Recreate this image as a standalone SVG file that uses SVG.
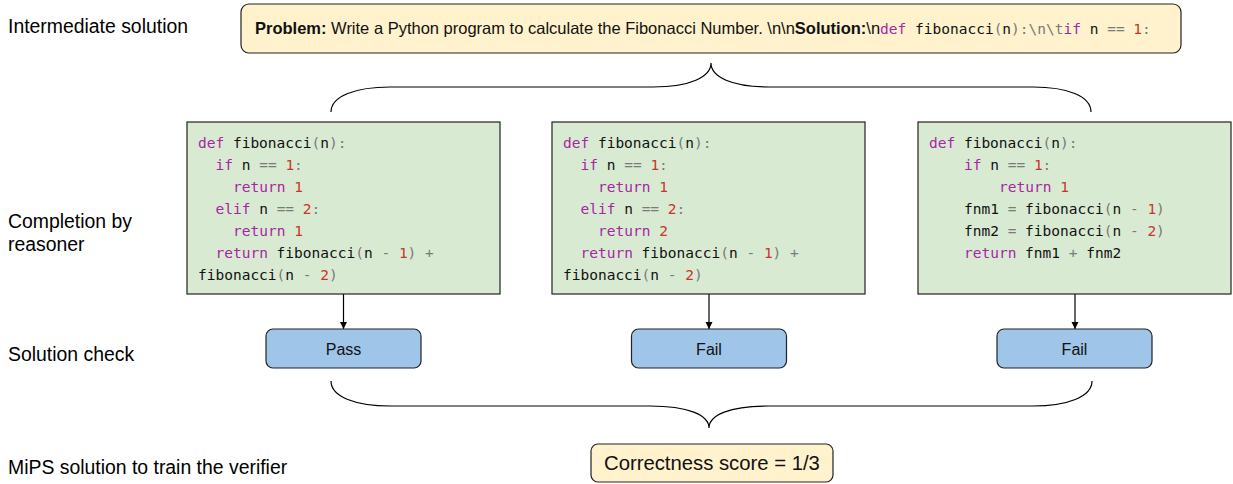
<svg xmlns="http://www.w3.org/2000/svg" width="1233" height="484" viewBox="0 0 1233 484">
<defs>
<marker id="arr" viewBox="0 0 10 10" refX="10" refY="5" markerWidth="7" markerHeight="9" markerUnits="userSpaceOnUse" orient="auto">
<path d="M0,0 L10,5 L0,10 z" fill="#000"/>
</marker>
<style>
.lbl{font-family:"Liberation Sans",Arial,sans-serif;font-size:19.4px;fill:#000}
.sans{font-family:"Liberation Sans",Arial,sans-serif}
.mono{font-family:"DejaVu Sans Mono","Liberation Mono",monospace;font-size:14.5px;fill:#111}
.kw{fill:#a626a4}
.num{fill:#c8342b}
.pn{fill:#7a7a7a}
.yellow{fill:#fff2cc;stroke:#222;stroke-width:1.2}
.green{fill:#d9ead3;stroke:#222;stroke-width:1.2}
.blue{fill:#9fc5e8;stroke:#222;stroke-width:1.2}
.btxt{font-family:"Liberation Sans",Arial,sans-serif;font-size:16px;fill:#111;text-anchor:middle}
.conn{fill:none;stroke:#000;stroke-width:1.2}
</style>
</defs>
<rect width="1233" height="484" fill="#fff"/>

<g id="labels">
<text class="lbl" x="8" y="33">Intermediate solution</text>
<text class="lbl" x="8" y="228">Completion by</text>
<text class="lbl" x="8" y="251">reasoner</text>
<text class="lbl" x="8" y="361">Solution check</text>
<text class="lbl" x="8" y="474">MiPS solution to train the verifier</text>
</g>

<g id="intermediate">
<rect class="yellow" x="241" y="4" width="940" height="49" rx="8"/>
<text x="255" y="34" class="sans" font-size="16.5" fill="#111"><tspan font-weight="bold">Problem:</tspan> Write a Python program to calculate the Fibonacci Number. \n\n<tspan font-weight="bold">Solution:</tspan>\n<tspan class="mono" font-size="13.6px"><tspan class="kw">def</tspan> fibonacci<tspan class="pn">(</tspan>n<tspan class="pn">):\n\t</tspan><tspan class="kw">if</tspan> n <tspan class="pn">==</tspan> <tspan class="num">1</tspan><tspan class="pn">:</tspan></tspan></text>
</g>

<g id="connectors">
<path class="conn" d="M331,112 C331,96 356,87 390,87 L653,87 C690,87 711,77 711,63 C711,77 732,87 769,87 L1033,87 C1067,87 1091,96 1091,112"/>
<line class="conn" x1="343.5" y1="294" x2="343.5" y2="329" marker-end="url(#arr)"/>
<line class="conn" x1="709" y1="294" x2="709" y2="329" marker-end="url(#arr)"/>
<line class="conn" x1="1075" y1="294" x2="1075" y2="329" marker-end="url(#arr)"/>
<path class="conn" d="M331,381 C331,397 356,406 390,406 L650,406 C688,406 709,415 709,428 C709,415 730,406 768,406 L1033,406 C1067,406 1092,397 1092,381"/>
</g>

<g id="completion1">
<rect class="green" x="187" y="122" width="313" height="172"/>
<text class="mono" x="198" y="148"><tspan class="kw">def</tspan> fibonacci<tspan class="pn">(</tspan>n<tspan class="pn">):</tspan></text>
<text class="mono" x="215.5" y="170"><tspan class="kw">if</tspan> n <tspan class="pn">==</tspan> <tspan class="num">1</tspan><tspan class="pn">:</tspan></text>
<text class="mono" x="233" y="192"><tspan class="kw">return</tspan> <tspan class="num">1</tspan></text>
<text class="mono" x="215.5" y="214"><tspan class="kw">elif</tspan> n <tspan class="pn">==</tspan> <tspan class="num">2</tspan><tspan class="pn">:</tspan></text>
<text class="mono" x="233" y="236"><tspan class="kw">return</tspan> <tspan class="num">1</tspan></text>
<text class="mono" x="215.5" y="258"><tspan class="kw">return</tspan> fibonacci<tspan class="pn">(</tspan>n <tspan class="pn">-</tspan> <tspan class="num">1</tspan><tspan class="pn">)</tspan> <tspan class="pn">+</tspan></text>
<text class="mono" x="198" y="280">fibonacci<tspan class="pn">(</tspan>n <tspan class="pn">-</tspan> <tspan class="num">2</tspan><tspan class="pn">)</tspan></text>
</g>

<g id="completion2">
<rect class="green" x="552" y="122" width="313" height="172"/>
<text class="mono" x="563" y="148"><tspan class="kw">def</tspan> fibonacci<tspan class="pn">(</tspan>n<tspan class="pn">):</tspan></text>
<text class="mono" x="580.5" y="170"><tspan class="kw">if</tspan> n <tspan class="pn">==</tspan> <tspan class="num">1</tspan><tspan class="pn">:</tspan></text>
<text class="mono" x="598" y="192"><tspan class="kw">return</tspan> <tspan class="num">1</tspan></text>
<text class="mono" x="580.5" y="214"><tspan class="kw">elif</tspan> n <tspan class="pn">==</tspan> <tspan class="num">2</tspan><tspan class="pn">:</tspan></text>
<text class="mono" x="598" y="236"><tspan class="kw">return</tspan> <tspan class="num">2</tspan></text>
<text class="mono" x="580.5" y="258"><tspan class="kw">return</tspan> fibonacci<tspan class="pn">(</tspan>n <tspan class="pn">-</tspan> <tspan class="num">1</tspan><tspan class="pn">)</tspan> <tspan class="pn">+</tspan></text>
<text class="mono" x="563" y="280">fibonacci<tspan class="pn">(</tspan>n <tspan class="pn">-</tspan> <tspan class="num">2</tspan><tspan class="pn">)</tspan></text>
</g>

<g id="completion3">
<rect class="green" x="918" y="122" width="313" height="172"/>
<text class="mono" x="929" y="148"><tspan class="kw">def</tspan> fibonacci<tspan class="pn">(</tspan>n<tspan class="pn">):</tspan></text>
<text class="mono" x="964" y="170"><tspan class="kw">if</tspan> n <tspan class="pn">==</tspan> <tspan class="num">1</tspan><tspan class="pn">:</tspan></text>
<text class="mono" x="999" y="192"><tspan class="kw">return</tspan> <tspan class="num">1</tspan></text>
<text class="mono" x="964" y="214">fnm1 <tspan class="pn">=</tspan> fibonacci<tspan class="pn">(</tspan>n <tspan class="pn">-</tspan> <tspan class="num">1</tspan><tspan class="pn">)</tspan></text>
<text class="mono" x="964" y="236">fnm2 <tspan class="pn">=</tspan> fibonacci<tspan class="pn">(</tspan>n <tspan class="pn">-</tspan> <tspan class="num">2</tspan><tspan class="pn">)</tspan></text>
<text class="mono" x="964" y="258"><tspan class="kw">return</tspan> fnm1 <tspan class="pn">+</tspan> fnm2</text>
</g>

<g id="check1">
<rect class="blue" x="266" y="329" width="155" height="39" rx="7"/>
<text class="btxt" x="343.5" y="355">Pass</text>
</g>
<g id="check2">
<rect class="blue" x="631.5" y="329" width="155" height="39" rx="7"/>
<text class="btxt" x="709" y="355">Fail</text>
</g>
<g id="check3">
<rect class="blue" x="997" y="329" width="155" height="39" rx="7"/>
<text class="btxt" x="1074.5" y="355">Fail</text>
</g>

<g id="score">
<rect class="yellow" x="591" y="444" width="242" height="38" rx="7"/>
<text class="sans" x="604" y="470" font-size="20.3" fill="#111">Correctness score = 1/3</text>
</g>
</svg>
